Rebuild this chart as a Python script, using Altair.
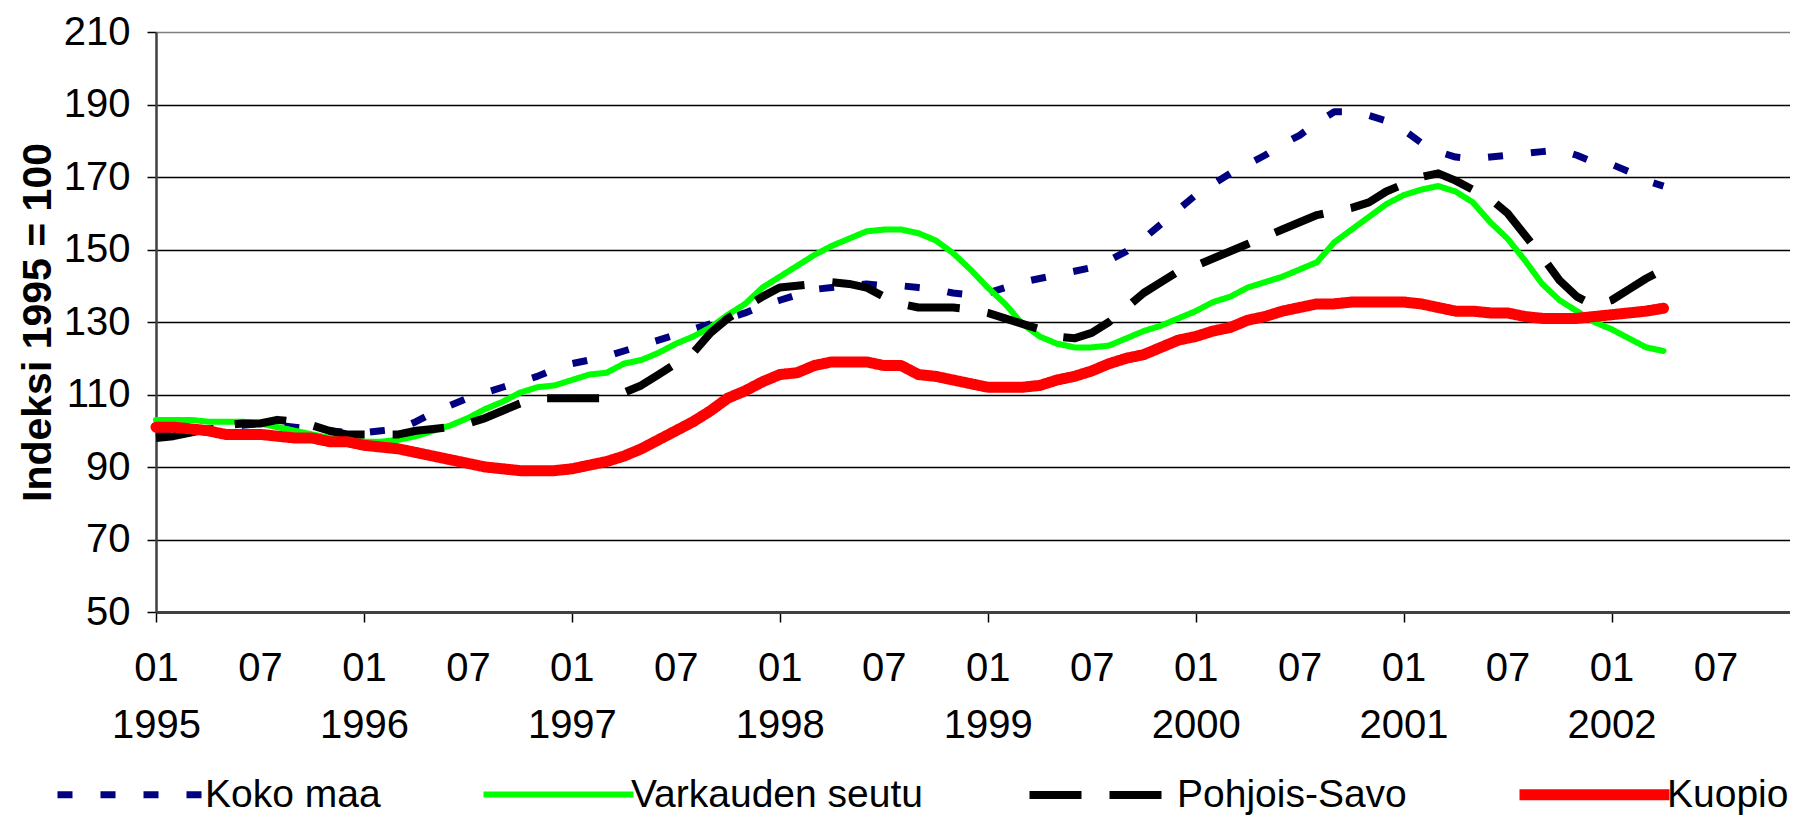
import altair as alt
import pandas as pd

# Months 1995-01 .. 2002-04
months = [f"{y}-{m:02d}" for y in range(1995, 2003) for m in range(1, 13)][:88]

koko_maa = [99, 99.5, 100, 100.5, 101, 101.5, 102, 101.5, 101, 100.5, 100, 99.5,
            99.5, 100, 100.5, 102.5, 105, 107, 109, 110.5, 112, 113.5, 115, 117,
            118.5, 119.5, 120.5, 122, 123.5, 125, 126.5, 128, 129.5, 131, 132.5, 134.5,
            136, 137.5, 139, 139.5, 140, 140.5, 140, 140, 139.5, 139, 138, 137.5,
            138, 139.5, 141, 142, 143, 144, 145, 147, 149.5, 153, 157, 161,
            165, 168, 171, 173.5, 176, 179, 181.5, 185, 188, 188, 187, 185.5,
            183, 179.5, 177, 175.5, 175, 175.5, 176, 176.5, 177, 177.5, 176, 174,
            173.5, 171.5, 169, 167.5]

varkaus = [103, 103, 103, 102.5, 102.5, 102.5, 102, 101, 100, 99, 98, 97.5,
           97, 97, 97.5, 98.5, 100, 101.5, 103.5, 106, 108, 110.5, 112, 112.5,
           114, 115.5, 116, 118.5, 119.5, 121.5, 124, 126, 128.5, 132, 135, 139.5,
           142.5, 145.5, 148.5, 151, 153, 155, 155.5, 155.5, 154.5, 152.5, 149, 144.5,
           139.5, 135, 129.5, 126, 124, 123, 123, 123.5, 125.5, 127.5, 129, 131,
           133, 135.5, 137, 139.5, 141, 142.5, 144.5, 146.5, 152, 155.5, 159, 162.5,
           165, 166.5, 167.5, 166, 163, 157.5, 153, 147, 140.5, 136, 133, 130,
           128, 125.5, 123, 122]

pohjois_savo = [98, 98.5, 99.5, 100.5, 101.5, 102, 102, 103, 102.5, 101.5, 100, 99,
                99, 99, 99, 100, 100.5, 101, 102, 103.5, 105.5, 107.5, 109, 109,
                109, 109, 109, 110.5, 112.5, 115.5, 118.5, 121.5, 127, 131, 134, 137,
                139.5, 140, 140.5, 141, 140.5, 139.5, 137, 135, 134, 134, 134, 133.5,
                132.5, 131, 129.5, 128, 126, 125.5, 127, 130, 134, 138, 141, 144,
                145.5, 147.5, 149.5, 151.5, 153.5, 155.5, 157.5, 159.5, 160.5, 161.5, 163, 166,
                168, 170, 171, 169, 166.5, 164, 160, 154, 148, 141.5, 137, 134.5,
                136, 139, 142, 144.5]

kuopio = [101, 101, 100.5, 100, 99, 99, 99, 98.5, 98, 98, 97, 97,
          96, 95.5, 95, 94, 93, 92, 91, 90, 89.5, 89, 89, 89,
          89.5, 90.5, 91.5, 93, 95, 97.5, 100, 102.5, 105.5, 109, 111, 113.5,
          115.5, 116, 118, 119, 119, 119, 118, 118, 115.5, 115, 114, 113,
          112, 112, 112, 112.5, 114, 115, 116.5, 118.5, 120, 121, 123, 125,
          126, 127.5, 128.5, 130.5, 131.5, 133, 134, 135, 135, 135.5, 135.5, 135.5,
          135.5, 135, 134, 133, 133, 132.5, 132.5, 131.5, 131, 131, 131, 131.5,
          132, 132.5, 133, 133.8]

names = ["Koko maa", "Varkauden seutu", "Pohjois-Savo", "Kuopio"]
colors = ["#000080", "#00FF00", "#000000", "#FF0000"]
dashes = [[15, 28], [1, 0], [52, 28], [1, 0]]
widths = [7, 6, 8, 11]
caps = ["butt", "round", "butt", "round"]

rows = []
for name, vals in zip(names, [koko_maa, varkaus, pohjois_savo, kuopio]):
    for i, (m, v) in enumerate(zip(months, vals)):
        rows.append({"series": name, "month": m, "i": i, "value": v})
df = pd.DataFrame(rows)

FONT = "Liberation Sans"

legend = alt.Legend(
    orient="none", legendX=-104, legendY=682, direction="horizontal", columns=4,
    title=None, symbolType="stroke", symbolSize=22500, labelFont=FONT,
    labelFontSize=39, labelColor="black", labelOffset={"expr": "-8"}, columnPadding=90,
    labelLimit=600,
)

x = alt.X(
    "i:Q",
    scale=alt.Scale(domain=[0, 94.3], nice=False, zero=False),
    axis=alt.Axis(
        values=list(range(0, 91, 6)), title=None, grid=False,
        labelExpr="datum.value % 12 == 0 ? ['01', '' + (1995 + datum.value / 12)] : '07'",
        labelFont=FONT, labelFontSize=40, labelColor="black", labelPadding=26,
        labelLineHeight=57, labelFlush=False, labelOverlap=False, labelBound=False,
        tickSize=10, tickWidth=1.5,
        tickColor={"condition": {"test": "datum.value % 12 == 0", "value": "black"}, "value": "transparent"},
        domainColor="#404040", domainWidth=3,
    ),
)
y = alt.Y(
    "value:Q",
    scale=alt.Scale(domain=[50, 210], nice=False, zero=False),
    axis=alt.Axis(
        values=list(range(50, 211, 20)), title="Indeksi 1995 = 100",
        titleFont=FONT, titleFontSize=41, titleFontWeight="bold", titleColor="black",
        titlePadding=4, labelFont=FONT, labelFontSize=40, labelColor="black",
        labelPadding=17, tickSize=9, tickColor="black", tickWidth=1.5,
        domainColor="#404040", domainWidth=2.5, gridWidth=1.5,
        gridColor={"condition": {"test": "datum.value == 210", "value": "#808080"}, "value": "black"},
    ),
)

layers = []
for name, cap in zip(names, caps):
    layers.append(
        alt.Chart(df).transform_filter(alt.datum.series == name)
        .mark_line(strokeCap=cap, strokeJoin="round")
        .encode(
            x=x, y=y,
            color=alt.Color("series:N", scale=alt.Scale(domain=names, range=colors), legend=legend),
            strokeDash=alt.StrokeDash("series:N", scale=alt.Scale(domain=names, range=dashes), legend=legend),
            strokeWidth=alt.StrokeWidth("series:N", scale=alt.Scale(type="ordinal", domain=names, range=widths), legend=legend),
        )
    )

chart = alt.layer(*layers).properties(
    width=1634, height=580,
    autosize=alt.AutoSizeParams(type="none"),
    padding={"left": 148, "top": 24, "right": 0, "bottom": 203},
    background="white",
).configure_view(stroke=None)

chart.save("out.html", embed_options={"renderer": "svg", "actions": False})
